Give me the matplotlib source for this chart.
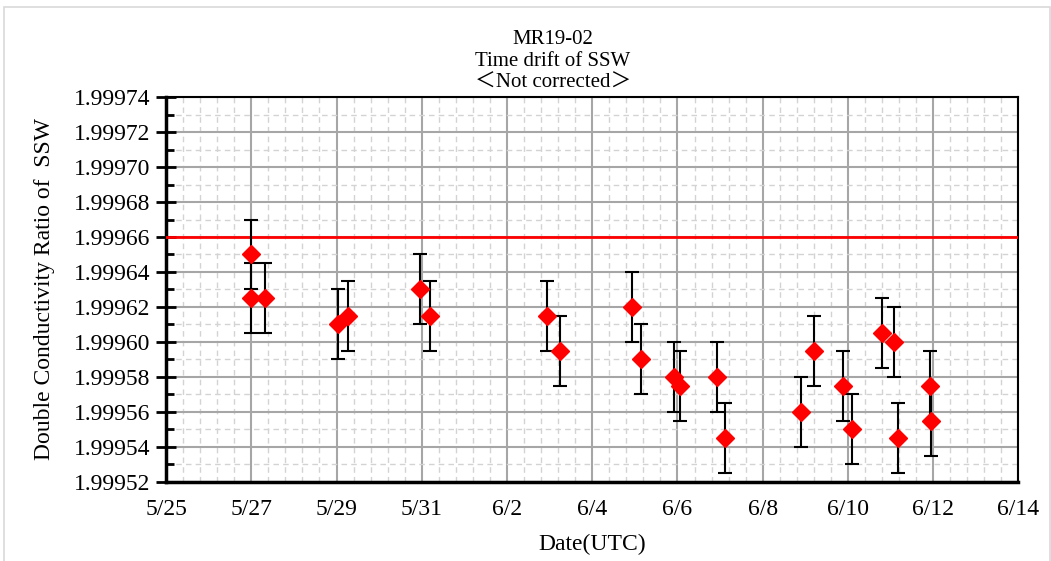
import matplotlib.pyplot as plt
from matplotlib.ticker import MultipleLocator, FormatStrFormatter
from matplotlib.patches import Rectangle

# data: days since 5/25 (UTC)
days = [2.0, 2.0, 2.31, 4.03, 4.28, 5.97, 6.2, 8.94, 9.25,
        10.94, 11.14, 11.93, 12.05, 12.92, 13.12,
        14.9, 15.21, 15.88, 16.1, 16.79, 17.08, 17.18, 17.93, 17.95]
ratio = [1.99965, 1.999625, 1.999625, 1.99961, 1.999615, 1.99963, 1.999615, 1.999615, 1.999595,
         1.99962, 1.99959, 1.99958, 1.999575, 1.99958, 1.999545,
         1.99956, 1.999595, 1.999575, 1.99955, 1.999605, 1.9996, 1.999545, 1.999575, 1.999555]
err = [0.00002] * len(days)
ref_value = 1.99966
tick_days = [0, 2, 4, 6, 8, 10, 12, 14, 16, 18, 20]
tick_labels = ['5/25', '5/27', '5/29', '5/31', '6/2', '6/4', '6/6', '6/8', '6/10', '6/12', '6/14']
title_lines = ['MR19-02', 'Time drift of SSW', '＜Not corrected＞']

plt.rcParams['font.family'] = ['Liberation Serif', 'Noto Sans CJK JP', 'DejaVu Serif']

fig = plt.figure(figsize=(10.51, 5.61), dpi=100)
ax = fig.add_axes([0.158, 0.141, 0.811, 0.686])

# outer frame
fig.patches.append(Rectangle((0.004, -0.01), 0.995, 0.998, transform=fig.transFigure,
                             fill=False, edgecolor='#d9d9d9', lw=1.2))

ax.axhline(ref_value, color='red', lw=2, zorder=3)
ax.errorbar(days, ratio, yerr=err, fmt='D', color='red', ms=9, mec='red',
            ecolor='black', elinewidth=1.5, capsize=5, capthick=1.5, zorder=4)

ax.set_xlim(0, 20)
ax.set_ylim(1.99952, 1.99974)
ax.set_xticks(tick_days)
ax.set_xticklabels(tick_labels)
ax.xaxis.set_minor_locator(MultipleLocator(0.4))
ax.yaxis.set_major_locator(MultipleLocator(0.00002))
ax.yaxis.set_minor_locator(MultipleLocator(0.00001))
ax.yaxis.set_major_formatter(FormatStrFormatter('%.5f'))

ax.grid(which='major', color='#a6a6a6', lw=1.5, ls='-')
ax.grid(which='minor', color='#d3d3d3', lw=1, ls=(0, (4, 3)))
ax.set_axisbelow(True)

ax.tick_params(axis='x', which='both', length=0, labelsize=17, pad=12)
ax.tick_params(axis='y', which='major', direction='inout', length=14, width=2, labelsize=17, pad=4)
ax.tick_params(axis='y', which='minor', direction='in', length=6, width=2)
for s in ax.spines.values():
    s.set_color('black')
    s.set_linewidth(1.5)
ax.spines['left'].set_linewidth(2.5)
ax.spines['bottom'].set_linewidth(2.5)

ax.set_xlabel('Date(UTC)', fontsize=17, labelpad=10)
ax.set_ylabel('Double Conductivity Ratio of  SSW', fontsize=17, labelpad=14)

# title, one line at a time
for i, line in enumerate(title_lines):
    fig.text(0.526, 0.929 - i * 0.0385, line, fontsize=15, ha='center', va='center')

fig.savefig('out.png', dpi=100)
